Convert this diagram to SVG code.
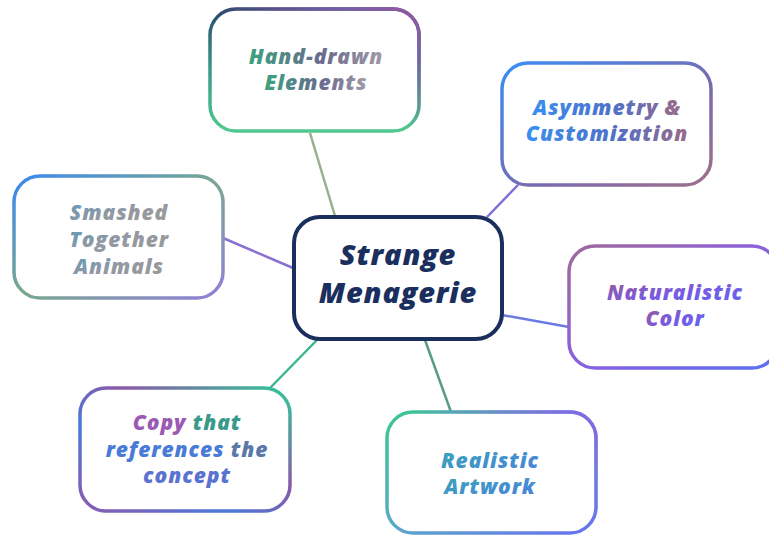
<svg xmlns="http://www.w3.org/2000/svg" width="769" height="535" viewBox="0 0 769 535">
<defs>
<style>
.box{fill:#fff;stroke-width:3.5}
.ov{fill:none;stroke-width:3.5}
.t{font-family:"Open Sans","Noto Sans",sans-serif;font-weight:800;font-style:italic;font-size:21px;letter-spacing:0.9px;text-anchor:middle}
.m{font-size:29px;letter-spacing:0.8px;fill:#1b2f5e}
.c{stroke-width:2.5;fill:none}
</style>
<linearGradient id="s1" x1="0" y1="0" x2="0" y2="1"><stop offset="0" stop-color="#2a4a6e"/><stop offset="0.5" stop-color="#3a9a88"/><stop offset="1" stop-color="#50c890"/></linearGradient>
<linearGradient id="o1" x1="0" y1="1" x2="1" y2="0"><stop offset="0.5" stop-color="#9a56a0" stop-opacity="0"/><stop offset="0.8" stop-color="#7a60b0" stop-opacity="0.9"/><stop offset="1" stop-color="#9a56a0"/></linearGradient>
<linearGradient id="t1" x1="0" y1="0" x2="1" y2="0"><stop offset="0" stop-color="#3aa27c"/><stop offset="0.55" stop-color="#6a6a90"/><stop offset="1" stop-color="#a09aa8"/></linearGradient>
<linearGradient id="s2" x1="0" y1="0" x2="1" y2="1"><stop offset="0" stop-color="#3a8ef4"/><stop offset="0.6" stop-color="#7a6ab0"/><stop offset="1" stop-color="#a07088"/></linearGradient>
<linearGradient id="t2" x1="0" y1="0" x2="1" y2="0"><stop offset="0" stop-color="#3a90f0"/><stop offset="0.55" stop-color="#5070c8"/><stop offset="1" stop-color="#9a6a88"/></linearGradient>
<linearGradient id="s3" x1="0" y1="0" x2="1" y2="1"><stop offset="0" stop-color="#3a88f0"/><stop offset="0.5" stop-color="#7aa890"/><stop offset="1" stop-color="#9080d8"/></linearGradient>
<linearGradient id="t3" x1="0" y1="0" x2="1" y2="1"><stop offset="0" stop-color="#5a9ab8"/><stop offset="0.5" stop-color="#9498a4"/><stop offset="1" stop-color="#9a9a92"/></linearGradient>
<linearGradient id="s4" x1="0" y1="0" x2="1" y2="1"><stop offset="0" stop-color="#a06a9a"/><stop offset="0.5" stop-color="#8a60e0"/><stop offset="1" stop-color="#5a70f0"/></linearGradient>
<linearGradient id="t4" x1="0" y1="0" x2="1" y2="1"><stop offset="0" stop-color="#9a5a8e"/><stop offset="0.5" stop-color="#7a5ae0"/><stop offset="1" stop-color="#5a68f0"/></linearGradient>
<linearGradient id="s5" x1="0" y1="1" x2="1" y2="0"><stop offset="0" stop-color="#8a5ab0"/><stop offset="0.35" stop-color="#4a78d8"/><stop offset="0.6" stop-color="#8a5aa8"/><stop offset="1" stop-color="#30c898"/></linearGradient>
<linearGradient id="s6" x1="0" y1="0" x2="1" y2="1"><stop offset="0" stop-color="#3ac890"/><stop offset="0.5" stop-color="#5aa8c8"/><stop offset="1" stop-color="#6a70f0"/></linearGradient>
<linearGradient id="o6" x1="0" y1="1" x2="1" y2="0"><stop offset="0.55" stop-color="#8a60e8" stop-opacity="0"/><stop offset="1" stop-color="#8a60e8"/></linearGradient>
<linearGradient id="t6" x1="0" y1="0" x2="1" y2="1"><stop offset="0" stop-color="#3aa8b4"/><stop offset="1" stop-color="#4a7ee0"/></linearGradient>
</defs>
<g id="connectors">
<line class="c" x1="310" y1="133" x2="335" y2="216" stroke="#9ab08a"/>
<line class="c" x1="518" y1="185" x2="487" y2="217" stroke="#7a70d8"/>
<line class="c" x1="223" y1="238" x2="293" y2="268" stroke="#8a70d0"/>
<line class="c" x1="569" y1="327" x2="502" y2="315" stroke="#6a7ae0"/>
<line class="c" x1="270" y1="388" x2="318" y2="339" stroke="#3ab890"/>
<line class="c" x1="451" y1="412" x2="425" y2="340" stroke="#5a9a8a"/>
</g>
<g id="center">
<rect x="294" y="217" width="208" height="122" rx="26" fill="#fff" stroke="#1b2f5e" stroke-width="4"/>
<text class="t m" x="398" y="265">Strange</text>
<text class="t m" x="398" y="303">Menagerie</text>
</g>
<g id="hand-drawn">
<rect class="box" x="210" y="9" width="209" height="122" rx="26" stroke="url(#s1)"/>
<rect class="ov" x="210" y="9" width="209" height="122" rx="26" stroke="url(#o1)"/>
<text class="t" x="316" y="64" fill="url(#t1)">Hand-drawn</text>
<text class="t" x="316" y="90" fill="url(#t1)">Elements</text>
</g>
<g id="asymmetry">
<rect class="box" x="502" y="63" width="209" height="122" rx="26" stroke="url(#s2)"/>
<text class="t" x="607" y="115" fill="url(#t2)">Asymmetry &amp;</text>
<text class="t" x="607" y="141" fill="url(#t2)">Customization</text>
</g>
<g id="smashed">
<rect class="box" x="14" y="176" width="209" height="122" rx="26" stroke="url(#s3)"/>
<text class="t" x="119" y="220" fill="url(#t3)">Smashed</text>
<text class="t" x="119" y="247" fill="url(#t3)">Together</text>
<text class="t" x="119" y="274" fill="url(#t3)">Animals</text>
</g>
<g id="naturalistic">
<rect class="box" x="569" y="246" width="209" height="122" rx="26" stroke="url(#s4)"/>
<text class="t" x="675" y="300" fill="url(#t4)">Naturalistic</text>
<text class="t" x="675" y="326" fill="url(#t4)">Color</text>
</g>
<g id="copy">
<rect class="box" x="80" y="388" width="210" height="123" rx="26" stroke="url(#s5)"/>
<text class="t" x="187" y="430"><tspan fill="#9a5ab4">Copy</tspan> <tspan fill="#3a9a8a">that</tspan></text>
<text class="t" x="187" y="457"><tspan fill="#4a7ad8">references</tspan> <tspan fill="#5a78a8">the</tspan></text>
<text class="t" x="187" y="483" fill="#5a72d0">concept</text>
</g>
<g id="realistic">
<rect class="box" x="387" y="412" width="209" height="121" rx="26" stroke="url(#s6)"/>
<rect class="ov" x="387" y="412" width="209" height="121" rx="26" stroke="url(#o6)"/>
<text class="t" x="490" y="468" fill="url(#t6)">Realistic</text>
<text class="t" x="490" y="494" fill="url(#t6)">Artwork</text>
</g>
</svg>
